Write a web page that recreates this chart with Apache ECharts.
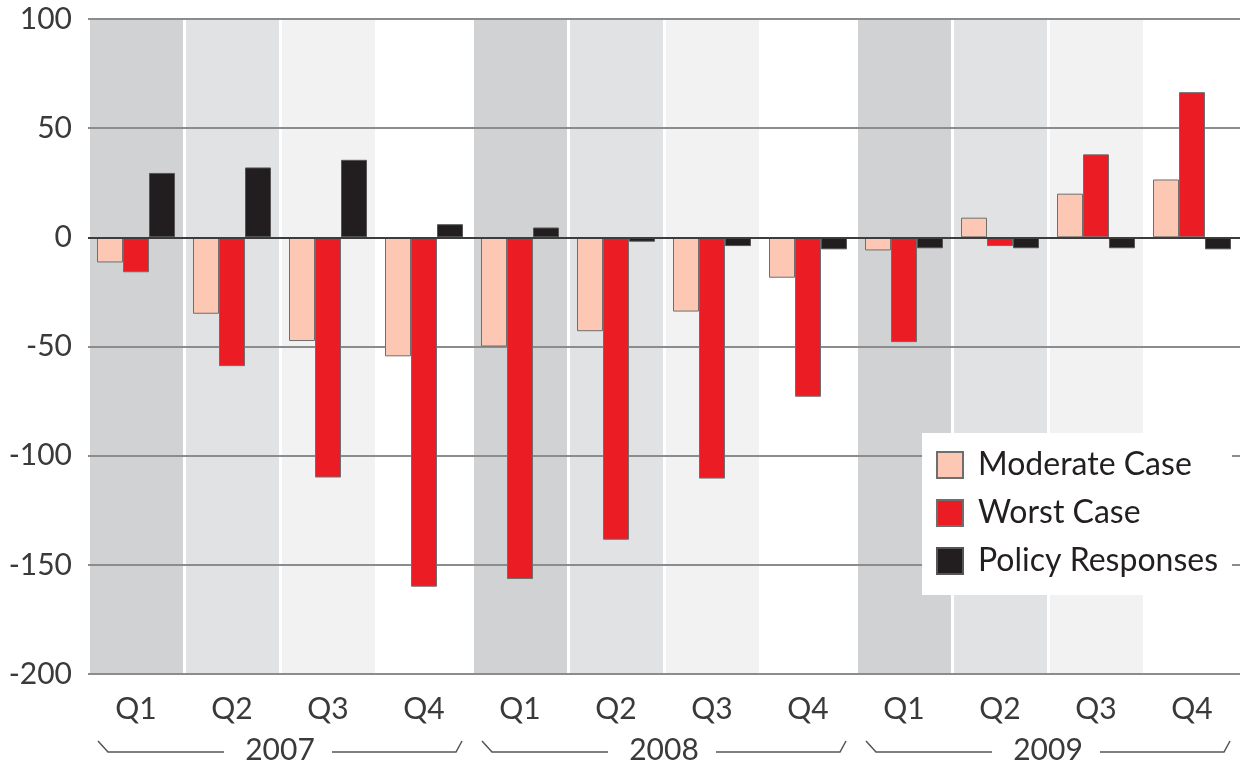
<!DOCTYPE html>
<html>
<head>
<meta charset="utf-8">
<script src="https://cdn.jsdelivr.net/npm/echarts@6/dist/echarts.min.js"></script>
<style>
  html, body { margin: 0; padding: 0; background: #fff; }
  #chart { width: 1243px; height: 771px; }
</style>
</head>
<body>
<div id="chart"></div>
<script>
// Data
var years = ['2007', '2008', '2009'];
var quarters = ['Q1', 'Q2', 'Q3', 'Q4'];
var moderate = [-11.5, -35, -47.5, -54.5, -50, -43, -34, -18.5, -6, 9, 20, 26.5];
var worst = [-16, -59, -110, -160, -156.5, -138.5, -110.5, -73, -48, -4, 38, 66.5];
var policy = [29.5, 32, 35.5, 6, 4.5, -2, -4, -5.5, -5, -5, -5, -5.5];

// one category per year/quarter pair
var categories = [];
years.forEach(function (y) {
    quarters.forEach(function (q) { categories.push(y + ' ' + q); });
});

var myChart = echarts.init(document.getElementById('chart'));
var font = 'Lato, "Open Sans", sans-serif';

var option = {
    animation: false,
    grid: { left: 88, top: 19, right: 3, bottom: 97 },
    legend: {
        orient: 'vertical',
        left: 922,
        top: 433,
        padding: [16, 14, 18, 14],
        backgroundColor: '#ffffff',
        itemWidth: 26,
        itemHeight: 26,
        itemGap: 16,
        icon: 'rect',
        textStyle: { fontFamily: font, fontSize: 32, color: '#231f20', padding: [0, 0, 0, 10] },
        data: ['Moderate Case', 'Worst Case', 'Policy Responses']
    },
    xAxis: [
        {
            type: 'category',
            data: categories,
            z: 0,
            axisLine: { show: false },
            axisTick: { show: false },
            axisLabel: {
                margin: 20,
                fontFamily: font,
                fontSize: 30,
                color: '#3a3a3a',
                formatter: function (v) { return v.split(' ')[1]; }
            },
            splitArea: {
                show: true,
                areaStyle: { color: ['#d1d2d4', '#e1e2e4', '#f2f2f2', '#ffffff'] }
            },
            splitLine: { show: true, lineStyle: { color: '#ffffff', width: 3 } }
        },
        {
            type: 'category',
            data: years,
            position: 'bottom',
            offset: 41,
            axisLine: { show: false },
            axisTick: { show: false },
            splitLine: { show: false },
            axisLabel: {
                margin: 20,
                fontFamily: font,
                fontSize: 30,
                color: '#3a3a3a'
            }
        }
    ],
    yAxis: {
        type: 'value',
        min: -200,
        max: 100,
        interval: 50,
        z: 1,
        axisLine: { show: false },
        axisTick: { show: false },
        axisLabel: {
            margin: 16,
            fontFamily: font,
            fontSize: 30,
            color: '#3a3a3a'
        },
        splitLine: { lineStyle: { color: '#8c8c8c', width: 2 } }
    },
    series: [
        {
            name: 'Moderate Case',
            type: 'bar',
            barWidth: 26,
            barGap: '0%',
            data: moderate,
            itemStyle: { color: '#fcc8b4', borderColor: '#6e6e6e', borderWidth: 1 },
            markLine: {
                silent: true,
                symbol: 'none',
                label: { show: false },
                lineStyle: { color: '#3c3c3c', width: 2, type: 'solid' },
                data: [{ yAxis: 0 }]
            }
        },
        {
            name: 'Worst Case',
            type: 'bar',
            barWidth: 26,
            barGap: '0%',
            data: worst,
            itemStyle: { color: '#ec1c24', borderColor: '#6e6e6e', borderWidth: 1 }
        },
        {
            name: 'Policy Responses',
            type: 'bar',
            barWidth: 26,
            barGap: '0%',
            data: policy,
            itemStyle: { color: '#221e1f', borderColor: '#555555', borderWidth: 1 }
        }
    ]
};

myChart.setOption(option);

// bracket lines under the quarter labels, one per year, placed from the axis scale
function drawBrackets() {
    var step = myChart.convertToPixel({ xAxisIndex: 0 }, 1) - myChart.convertToPixel({ xAxisIndex: 0 }, 0);
    var y = myChart.getHeight() - 19;
    var elements = [];
    years.forEach(function (yr, i) {
        var first = myChart.convertToPixel({ xAxisIndex: 0 }, i * 4);
        var last = myChart.convertToPixel({ xAxisIndex: 0 }, i * 4 + 3);
        var mid = (first + last) / 2;
        var left = first - step / 2 + 10;
        var right = last + step / 2 - 10;
        elements.push({
            type: 'polyline',
            shape: { points: [[left, y - 11], [left + 10, y], [mid - 56, y]] },
            style: { stroke: '#555', lineWidth: 1.5, fill: null }
        });
        elements.push({
            type: 'polyline',
            shape: { points: [[mid + 52, y], [right - 6, y], [right, y - 11]] },
            style: { stroke: '#555', lineWidth: 1.5, fill: null }
        });
    });
    myChart.setOption({ graphic: elements });
}
drawBrackets();

window.onresize = function () {
    myChart.resize();
    drawBrackets();
};
</script>
</body>
</html>
